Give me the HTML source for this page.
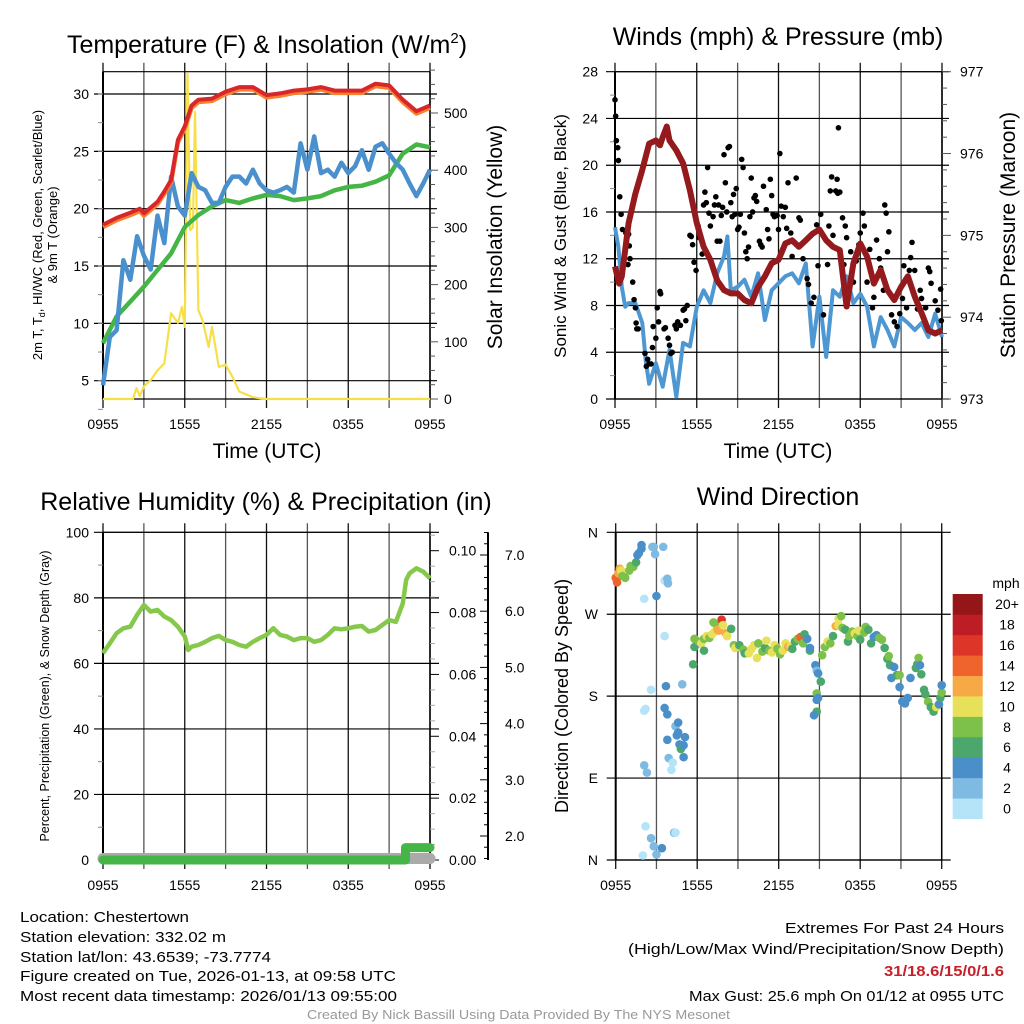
<!DOCTYPE html>
<html><head><meta charset="utf-8">
<style>
html,body{margin:0;padding:0;background:#fff;}
svg{display:block;font-family:"Liberation Sans",Arial,sans-serif;}
</style></head>
<body>
<svg id="fig" width="1024" height="1024" viewBox="0 0 1024 1024" xmlns="http://www.w3.org/2000/svg">
<rect width="1024" height="1024" fill="#fff"/>
<g id="p1"></g>
<g id="p2"></g>
<g id="p3"></g>
<g id="p4"></g>
<g font-size="15" fill="#000" lengthAdjust="spacingAndGlyphs">
<text x="20" y="922" textLength="169" lengthAdjust="spacingAndGlyphs">Location: Chestertown</text>
<text x="20" y="942" textLength="206" lengthAdjust="spacingAndGlyphs">Station elevation: 332.02 m</text>
<text x="20" y="962" textLength="251" lengthAdjust="spacingAndGlyphs">Station lat/lon: 43.6539; -73.7774</text>
<text x="20" y="981" textLength="376" lengthAdjust="spacingAndGlyphs">Figure created on Tue, 2026-01-13, at 09:58 UTC</text>
<text x="20" y="1001" textLength="377" lengthAdjust="spacingAndGlyphs">Most recent data timestamp: 2026/01/13 09:55:00</text>
</g>
<g font-size="15">
<text x="785" y="933" textLength="219" lengthAdjust="spacingAndGlyphs">Extremes For Past 24 Hours</text>
<text x="628" y="954" textLength="376" lengthAdjust="spacingAndGlyphs">(High/Low/Max Wind/Precipitation/Snow Depth)</text>
<text x="884" y="976" textLength="120" lengthAdjust="spacingAndGlyphs" fill="#c8202a" font-weight="bold">31/18.6/15/0/1.6</text>
<text x="689" y="1001" textLength="315" lengthAdjust="spacingAndGlyphs">Max Gust: 25.6 mph On 01/12 at 0955 UTC</text>
</g>
<text x="307" y="1019" font-size="13" textLength="423" lengthAdjust="spacingAndGlyphs" fill="#999">Created By Nick Bassill Using Data Provided By The NYS Mesonet</text>
</svg>
<script>
// ---------- Panel 1 data ----------
const tempHours = [0,1,2,2.7,3,4,4.5,5,5.5,6,6.5,7,8,9,10,11,12,13,14,15,16,17,18,19,20,21,22,23,24];
const temp2m =   [18.6,19.2,19.65,20.0,19.6,20.6,21.5,22.5,26.0,27.2,29.0,29.5,29.6,30.2,30.6,30.6,29.9,30.05,30.3,30.4,30.6,30.3,30.3,30.3,30.9,30.75,29.5,28.5,29.0];
const temp9m =   [18.4,19.0,19.45,19.8,19.4,20.4,21.3,22.3,25.8,27.0,28.8,29.3,29.4,30.0,30.4,30.4,29.7,29.85,30.1,30.2,30.4,30.1,30.1,30.1,30.7,30.55,29.3,28.3,28.8];
const dewHours = [0,1,2,3,4,5,6,7,8,9,10,11,12,13,14,15,16,17,18,19,20,21,22,23,24];
const dewPoint = [8.27,10.6,11.9,13.2,14.65,16.1,18.4,19.45,20.2,20.75,20.5,20.9,21.2,21.1,20.75,20.9,21.1,21.6,21.9,22.0,22.35,22.9,24.8,25.6,25.35];
const wcHours = [0,0.5,1,1.5,2,2.5,3,3.5,4,4.5,5,5.5,6,6.5,7,7.5,8,8.5,9,9.5,10,10.5,11,11.5,12,12.5,13,13.5,14,14.5,15,15.5,16,16.5,17,17.5,18,18.5,19,19.5,20,20.5,21,21.5,22,22.5,23,23.5,24];
const windChill = [4.6,8.8,9.4,15.5,13.8,17.6,15.9,14.7,19.4,17.0,22.8,20.2,19.4,23.1,21.9,21.6,20.5,20.5,21.9,22.8,22.8,22.2,23.4,22.2,21.6,21.4,21.6,21.9,21.4,25.7,23.4,26.3,23.1,23.4,22.8,24.0,23.1,23.7,25.1,23.4,25.4,25.7,24.8,24.0,23.4,22.2,21.1,22.2,23.4];
const solHours = [0,2.2,2.45,2.7,3,3.5,4,4.5,5,5.5,5.8,6,6.2,6.4,6.6,6.75,7,7.3,7.75,8,8.5,9,9.5,10,10.5,11,12,24];
const solar =    [0,0,19,5,22,33,50,62,150,133,161,126,569,295,300,502,155,138,91,126,56,60,39,13,8,3,0,0];
const p1LeftTicks = [5,10,15,20,25,30];
const p1RightTicks = [0,100,200,300,400,500];
const timeLabels = ["0955","1555","2155","0355","0955"];
// ---------- Panel 2 data ----------
const presHours = [0,0.3,0.5,1,1.5,2,2.5,3,3.3,3.5,3.8,4,4.5,5,5.5,6,6.5,7,7.5,8,8.5,9,9.5,10,10.5,11,11.5,12,12.5,13,13.5,14,14.5,15,15.5,16,16.5,17,17.5,18,18.5,19,19.5,20,20.5,21,21.5,22,22.5,23,23.5,24];
const pressure = [974.62,974.41,974.5,975.15,975.51,975.8,976.12,976.16,976.1,976.2,976.33,976.16,976.04,975.88,975.55,975.15,974.86,974.7,974.45,974.33,974.29,974.29,974.21,974.17,974.37,974.5,974.66,974.7,974.9,974.94,974.86,974.94,975.02,975.07,974.94,974.86,974.82,974.13,974.66,974.9,974.74,974.41,974.58,974.33,974.21,974.37,974.5,974.25,974.05,973.84,973.8,973.84];
const windHours = [0,0.25,0.5,0.75,1,1.5,2,2.25,2.5,3,3.5,4,4.5,5,5.5,6,6.5,7,7.5,8,8.25,8.5,9,9.5,10,10.5,11,11.5,12,12.5,13,13.5,14,14.5,15,15.5,16,16.5,17,17.5,18,18.5,19,19.5,20,20.5,21,21.5,22,22.5,23,23.5,24];
const sonicWind = [14.7,13.0,9.6,7.9,8.2,8.2,6.5,3.3,1.3,3.05,1.05,4.2,0.2,4.8,4.5,7.9,9.3,8.2,10.75,12.2,13.9,9.3,9.6,10.2,8.75,10.75,6.75,9.3,9.9,10.5,10.75,9.9,11.6,4.5,8.75,3.6,9.3,8.75,10.5,8.2,9.0,7.9,4.5,7.0,5.9,4.5,7.0,6.5,5.9,6.5,5.3,7.3,5.3];
const gustHours = [0,0.05,0.1,0.2,0.25,0.35,0.45,0.55,0.8,0.9,1.0,1.05,0.95,1.1,1.3,1.4,1.5,1.55,1.6,1.7,2.2,2.3,2.4,2.5,2.65,2.75,2.8,3.0,3.1,3.2,3.3,3.35,3.6,3.7,3.9,4.0,4.1,4.2,4.4,4.5,4.6,4.8,5.0,5.1,5.2,5.3,5.5,5.6,5.7,5.8,5.95,6.1,6.2,6.4,6.5,6.6,6.7,6.8,6.9,7.0,7.2,7.3,7.4,7.5,7.6,7.7,7.8,7.9,8.0,8.1,8.2,8.3,8.4,8.5,8.6,8.7,8.8,8.9,9.0,9.1,9.2,9.3,9.4,9.5,9.6,9.7,9.8,9.9,10.0,10.1,10.2,10.3,10.4,10.6,10.7,10.8,10.9,11.1,11.2,11.3,11.4,11.5,11.6,11.7,11.9,12.0,12.1,12.2,12.35,12.5,12.6,12.7,12.9,13.0,13.3,13.5,13.6,13.8,14.1,14.2,14.4,14.6,14.8,14.9,15.1,15.3,15.6,15.7,15.8,15.9,16.0,16.2,16.3,16.35,16.4,16.5,16.7,16.8,16.9,17.0,17.3,17.5,17.7,17.9,18.0,18.2,18.3,18.5,18.7,18.9,19.0,19.2,19.4,19.5,19.7,19.8,19.9,20.0,20.1,20.3,20.5,20.7,20.9,21.1,21.2,21.4,21.6,21.7,21.8,22.0,22.2,22.4,22.5,22.8,23.0,23.1,23.2,23.5,23.7,23.9,23.95];
const gustVals = [25.6,24.2,22.1,21.5,20.4,17.3,15.8,14.5,14.2,13.9,14.1,13.1,11.5,12,10,8.5,7.8,6.5,6.0,6.0,3.9,2.8,3.4,3.0,3.0,4.4,6.2,5.2,7.8,6.6,9.2,9.0,6.0,6.1,5.2,4.6,3.9,4.0,6.3,6.0,6.6,6.3,7.6,7.7,6.7,8.0,14,13.9,13.2,11.7,11.0,14.8,13.8,12.4,16.6,17.7,16.8,19.8,15.9,14.8,15.6,16.6,17.3,13.5,16.6,13.5,15.7,16.4,20.9,18.5,16.0,21.5,21.6,16.8,15.6,17.5,15.8,18.0,14.5,14.7,15.8,20.5,19.8,14.2,12.6,12.0,13.0,15.6,18.9,16.0,17.2,17.4,16.9,13.5,13.2,13.0,18.2,16.2,14.5,13.7,18.8,17.4,15.8,15.6,15.7,14.5,21.0,16.5,15.6,16.4,14.6,18.5,14.2,12.2,18.9,15.5,15.3,12.0,10.3,9.8,8.2,8.7,14.9,11.4,15.8,7.2,11.5,14.8,17.8,19.0,14.0,17.8,18.8,17.6,23.2,17.7,15.5,11.5,14.8,13.8,12.6,10.0,11.8,13.2,14.2,15.9,14.8,10.0,12.8,7.8,8.7,13.6,12.0,11.2,9.3,16.6,15.9,12.6,14.3,7.2,6.6,6.2,7.3,8.6,11.4,7.8,11.0,12.1,13.4,11.0,7.7,9.3,8.6,7.8,11.2,10.9,9.9,8.4,7.6,9.4,6.7];
const p2LeftTicks = [0,4,8,12,16,20,24,28];
const p2RightTicks = [973,974,975,976,977];
// ---------- Panel 3 data ----------
const rhHours = [0,0.5,1,1.5,2,2.5,3,3.5,4,4.5,5,5.5,6,6.25,6.5,7,7.5,8,8.5,9,9.5,10,10.5,11,11.5,12,12.5,13,13.5,14,14.5,15,15.5,16,16.5,17,17.5,18,18.5,19,19.5,20,20.5,21,21.5,22,22.25,22.5,23,23.5,24];
const relHum = [63.1,66.1,69.2,70.7,71.2,74.8,77.8,75.8,76.3,74.3,73.2,71.2,68.2,64.1,65.1,65.6,66.6,67.7,68.4,67.1,66.6,65.6,65.1,66.6,67.7,68.7,70.7,68.7,68.2,67.1,67.7,67.7,66.6,67.1,68.7,70.7,70.4,70.7,71.2,71.4,69.7,70.2,71.7,73.2,72.7,78.3,85.5,87.5,89.0,88.0,86.0];
const precipHours = [0,22.2,22.2,24];
const precip = [0,0,0.004,0.004];
const snowHours = [0,24];
const snowDepth = [1.6,1.6];
const p3LeftTicks = [0,20,40,60,80,100];
const p3PrecipTicks = [0.00,0.02,0.04,0.06,0.08,0.10];
const p3SnowTicks = [2,3,4,5,6,7];
// ---------- Panel 4 data ----------
const dirHours = [0,0.1,0.2,0.3,0.4,0.5,0.7,1.0,1.1,1.3,1.5,1.6,1.7,1.9,1.9,2.1,2.7,2.8,2.9,3.0,3.5,3.6,3.8,3.85,3.6,2.1,2.2,2.1,2.3,2.2,2.0,2.6,2.8,3.0,3.6,3.8,3.8,3.9,4.2,4.1,4.3,4.4,2.6,3.7,4.4,4.6,4.7,4.8,5.0,5.0,5.1,4.5,4.9,4.6,3.4,5.7,5.8,5.8,6.1,6.1,6.3,6.5,6.5,6.7,6.9,7.1,7.2,7.3,7.4,7.5,7.6,7.8,7.9,8.1,8.2,8.5,8.7,8.8,9.1,9.4,9.5,9.8,10.0,10.2,10.4,10.5,10.8,11.0,11.1,11.3,11.5,11.7,11.9,12.1,12.3,12.5,12.7,12.9,13.0,13.2,13.4,13.6,13.8,13.9,14.1,14.3,14.3,14.7,14.8,14.9,15.1,14.8,14.8,14.8,14.6,14.9,15.2,15.4,15.6,15.8,16.0,16.2,16.4,16.4,16.6,16.7,16.9,17.1,17.2,17.4,17.6,17.8,17.9,18.0,18.3,18.4,18.6,18.8,19.0,19.2,19.4,19.6,19.8,20.0,20.1,20.2,20.3,20.5,20.7,20.9,20.9,21.1,21.3,21.5,21.7,22.1,22.2,22.3,22.4,22.5,22.7,22.8,23.0,23.2,23.4,23.6,23.8,23.9,24.0,24.0];
const dirDeg = [310,305,315,320,318,312,310,318,323,322,327,335,337,346,342,287,344,344,336,290,344,307,309,304,246,164,166,104,96,37,5,24,15,6,167,160,132,112,107,99,30,30,187,191,147,140,127,122,126,113,135,137,193,151,13,215,243,234,238,240,238,243,230,246,244,248,261,251,259,253,252,264,258,249,246,254,236,233,236,231,227,227,232,236,222,238,229,233,241,230,228,236,232,226,230,238,234,235,232,240,243,245,238,248,243,230,233,214,208,205,196,183,163,176,159,178,225,234,240,238,246,257,258,265,268,255,253,240,246,251,249,246,252,242,250,256,253,238,245,247,244,242,233,221,224,214,200,212,203,203,190,174,172,178,200,211,215,222,214,204,187,182,174,168,163,168,171,178,184,192];
const dirSpeed = [15,15,12,12,10,8,8,8,8,8,6,4,4,4,4,1,2,2,2,4,2,1,2,2,1,1,1,2,2,1,1,3,3,3,4,4,4,2,1,1,2,1,1,4,2,4,4,6,4,4,4,4,2,4,4,6,8,6,4,8,10,8,6,10,8,10,8,10,8,12,12,16,10,12,10,6,8,10,6,8,6,10,10,10,10,8,8,6,10,8,10,10,8,8,10,10,12,10,6,6,8,14,8,6,4,6,4,4,2,4,6,8,6,4,4,4,8,8,10,8,6,12,10,10,8,8,6,6,8,8,10,8,10,6,8,8,6,6,4,4,8,8,6,6,8,6,4,4,6,8,4,4,4,4,4,6,6,8,4,6,6,6,8,6,6,10,4,6,8,4];
const speedLabels = ["0","2","4","6","8","10","12","14","16","18","20+"];
const speedColors = ["#b5e3f8","#7fbae3","#4a8fc7","#4ba76c","#7dc14b","#e6e158","#f7a946","#ef632d","#dd3528","#bd1e25","#951619"];
const dirLabels = ["N","E","S","W","N"];

// ---------- helpers ----------
const NS = "http://www.w3.org/2000/svg";
function mk(parent, tag, attrs, text){
  const e = document.createElementNS(NS, tag);
  for (const k in attrs) e.setAttribute(k, attrs[k]);
  if (text !== undefined) e.textContent = text;
  parent.appendChild(e);
  return e;
}
function linScale(d0,d1,r0,r1){ return v => r0 + (v-d0)/(d1-d0)*(r1-r0); }
function pathD(xs, ys, fx, fy){
  let d = "";
  for (let i=0;i<xs.length;i++) d += (i?"L":"M") + fx(xs[i]).toFixed(1) + "," + fy(ys[i]).toFixed(1);
  return d;
}
function frame(g, x0, x1, y0, y1, hLines, fy, vExt){
  const fx = linScale(0,24,x0,x1);
  for (let h=0; h<=24; h+=3){
    const l = mk(g,"line",{x1:fx(h),x2:fx(h),y1:y0-9,y2:y1+9,stroke:(h%6===0?"#111":"#555"),"stroke-width":1.3});
    
    
  }
  for (const v of hLines){
    const l = mk(g,"line",{x1:x0-9,x2:x1+(vExt||7),y1:fy(v),y2:fy(v),stroke:"#000","stroke-width":1.2});
    
    
  }
  mk(g,"line",{x1:x0,x2:x0,y1:y0,y2:y1,stroke:"#000","stroke-width":2});
  mk(g,"line",{x1:x1,x2:x1,y1:y0,y2:y1,stroke:"#000","stroke-width":1.5});
  mk(g,"line",{x1:x0,x2:x1,y1:y0,y2:y0,stroke:"#000","stroke-width":1.2});
  mk(g,"line",{x1:x0,x2:x1,y1:y1,y2:y1,stroke:"#000","stroke-width":1.2});
}
function timeAxis(g, x0, x1, yLab){
  const fx = linScale(0,24,x0,x1);
  timeLabels.forEach((t,i)=>{
    const e = mk(g,"text",{x:fx(i*6),y:yLab,"font-size":14,"text-anchor":"middle"},t);
    
    
  });
}

// ---------- Panel 1 ----------
(function(){
  const g = document.getElementById("p1");
  const X0=103, X1=430, YT=71.7, YB=399;
  const fx = linScale(0,24,X0,X1);
  const fy = linScale(5,30,380.7,94);
  const fs = linScale(0,500,399,113);
  frame(g,X0,X1,YT,YB,p1LeftTicks,fy);
  for (let v=2.5; v<32; v+=2.5){ mk(g,"line",{x1:X0-5,x2:X0,y1:fy(v),y2:fy(v),stroke:"#888"}); }
  for (let v=0; v<=575; v+=25){ mk(g,"line",{x1:X1,x2:X1+(v%100===0?8:5),y1:fs(v),y2:fs(v),stroke:"#555"}); }
  p1LeftTicks.forEach(v=>{ const e=mk(g,"text",{x:X0-14,y:fy(v)+5,"font-size":14,"text-anchor":"end"},String(v));   });
  p1RightTicks.forEach(v=>{ const e=mk(g,"text",{x:X1+14,y:fs(v)+5,"font-size":14},String(v));   });
  const s1 = mk(g,"path",{d:pathD(solHours,solar,fx,fs),fill:"none",stroke:"#f7df4a","stroke-width":2.2,"stroke-linejoin":"round"});
   
  const s2 = mk(g,"path",{d:pathD(dewHours,dewPoint,fx,fy),fill:"none",stroke:"#45b547","stroke-width":4.5,"stroke-linejoin":"round"});
   
  const s3 = mk(g,"path",{d:pathD(wcHours,windChill,fx,fy),fill:"none",stroke:"#4a90cc","stroke-width":4.5,"stroke-linejoin":"round"});
   
  const s4 = mk(g,"path",{d:pathD(tempHours,temp9m,fx,fy),fill:"none",stroke:"#f7802f","stroke-width":4.5,"stroke-linejoin":"round"});
   
  const s5 = mk(g,"path",{d:pathD(tempHours,temp2m,fx,fy),fill:"none",stroke:"#d8262a","stroke-width":4,"stroke-linejoin":"round"});
   
  timeAxis(g,X0,X1,429);
  const t = mk(g,"text",{x:267,y:53,"font-size":25,"text-anchor":"middle"});
  t.innerHTML = 'Temperature (F) &amp; Insolation (W/m<tspan dy="-10" font-size="15">2</tspan><tspan dy="10">)</tspan>';
   
  const xt = mk(g,"text",{x:267,y:458,"font-size":21,"text-anchor":"middle"},"Time (UTC)");
   
  const yl = mk(g,"text",{transform:"translate(42,235) rotate(-90)","font-size":13,"text-anchor":"middle"});
  yl.innerHTML = '<tspan x="0" dy="0">2m T, T<tspan font-size="9" dy="3">d</tspan><tspan dy="-3">, HI/WC (Red, Green, Scarlet/Blue)</tspan></tspan><tspan x="0" dy="15">&amp; 9m T (Orange)</tspan>';
   
  const yr = mk(g,"text",{transform:"translate(502,237) rotate(-90)","font-size":21,"text-anchor":"middle"},"Solar Insolation (Yellow)");
   
})();

// ---------- Panel 2 ----------
(function(){
  const g = document.getElementById("p2");
  const X0=615, X1=942, YT=71.7, YB=399;
  const fx = linScale(0,24,X0,X1);
  const fy = linScale(0,28,YB,YT);
  const fp = linScale(973,977,YB,YT);
  frame(g,X0,X1,YT,YB,p2LeftTicks,fy);
  for (let v=2; v<28; v+=4){ mk(g,"line",{x1:X0-5,x2:X0,y1:fy(v),y2:fy(v),stroke:"#888"}); }
  for (let v=973; v<=977.001; v+=0.2){ mk(g,"line",{x1:X1,x2:X1+(Math.abs(v-Math.round(v))<0.01?9:5),y1:fp(v),y2:fp(v),stroke:"#555"}); }
  p2LeftTicks.forEach(v=>{ const e=mk(g,"text",{x:X0-17,y:fy(v)+5,"font-size":14,"text-anchor":"end"},String(v));   });
  p2RightTicks.forEach(v=>{ const e=mk(g,"text",{x:X1+18,y:fp(v)+5,"font-size":14},String(v));   });
  const w = mk(g,"path",{d:pathD(windHours,sonicWind,fx,fy),fill:"none",stroke:"#4d97d3","stroke-width":4,"stroke-linejoin":"round"});
   
  gustHours.forEach((h,i)=>{
    const c = mk(g,"circle",{cx:fx(h),cy:fy(gustVals[i]),r:2.8,fill:"#000"});
    
    
  });
  const p = mk(g,"path",{d:pathD(presHours,pressure,fx,fp),fill:"none",stroke:"#951a1d","stroke-width":6,"stroke-linejoin":"round"});
   
  timeAxis(g,X0,X1,429);
  const t = mk(g,"text",{x:778,y:45,"font-size":25,"text-anchor":"middle"},"Winds (mph) & Pressure (mb)");
   
  const xt = mk(g,"text",{x:778,y:458,"font-size":21,"text-anchor":"middle"},"Time (UTC)");
   
  const yl = mk(g,"text",{transform:"translate(566,236) rotate(-90)","font-size":17,"text-anchor":"middle"},"Sonic Wind & Gust (Blue, Black)");
   
  const yr = mk(g,"text",{transform:"translate(1015,235) rotate(-90)","font-size":21,"text-anchor":"middle"},"Station Pressure (Maroon)");
   
})();

// ---------- Panel 3 ----------
(function(){
  const g = document.getElementById("p3");
  const X0=103, X1=430, YT=532.3, YB=860;
  const fx = linScale(0,24,X0,X1);
  const fy = linScale(0,100,YB,YT);
  const fpr = linScale(0,0.10,YB,550.7);
  const fsn = linScale(2,7,836,555);
  frame(g,X0,X1,YT,YB,[20,40,60,80,100],fy,9);
  for (let v=10; v<100; v+=20){ mk(g,"line",{x1:X0-5,x2:X0,y1:fy(v),y2:fy(v),stroke:"#888"}); }
  for (let v=0; v<=0.1051; v+=0.005){ const major=Math.abs(v*50-Math.round(v*50))<0.01; mk(g,"line",{x1:X1,x2:X1+(major?9:5),y1:fpr(v),y2:fpr(v),stroke:major?"#000":"#aaa"}); }
  mk(g,"line",{x1:488,x2:488,y1:YT,y2:YB,stroke:"#000","stroke-width":2});
  for (let v=1.6; v<=7.41; v+=0.2){ const major=Math.abs(v-Math.round(v))<0.01; mk(g,"line",{x1:488-(major?8:4),x2:488,y1:fsn(v),y2:fsn(v),stroke:"#000"}); }
  p3LeftTicks.forEach(v=>{ const e=mk(g,"text",{x:X0-14,y:fy(v)+5,"font-size":14,"text-anchor":"end"},String(v));   });
  p3PrecipTicks.forEach(v=>{ const e=mk(g,"text",{x:X1+19,y:fpr(v)+5,"font-size":14},v.toFixed(2));   });
  p3SnowTicks.forEach(v=>{ const e=mk(g,"text",{x:505,y:fsn(v)+5,"font-size":14},v.toFixed(1));   });
  const sn = mk(g,"path",{d:pathD(snowHours,snowDepth,fx,fsn),fill:"none",stroke:"#aaa","stroke-width":11,"stroke-linecap":"round"});
   
  const pr = mk(g,"path",{d:pathD(precipHours,precip,fx,fpr),fill:"none",stroke:"#46b548","stroke-width":9,"stroke-linecap":"round","stroke-linejoin":"round"});
   
  const rh = mk(g,"path",{d:pathD(rhHours,relHum,fx,fy),fill:"none",stroke:"#86c84c","stroke-width":4.5,"stroke-linejoin":"round"});
   
  timeAxis(g,X0,X1,890);
  const t = mk(g,"text",{x:266,y:510,"font-size":25,"text-anchor":"middle"},"Relative Humidity (%) & Precipitation (in)");
   
  const yl = mk(g,"text",{transform:"translate(49,696) rotate(-90)","font-size":12.5,"text-anchor":"middle"},"Percent, Precipitation (Green), & Snow Depth (Gray)");
   
})();

// ---------- Panel 4 ----------
(function(){
  const g = document.getElementById("p4");
  const X0=615.7, X1=941.7, YT=532.3, YB=860;
  const fx = linScale(0,24,X0,X1);
  const fy = linScale(0,360,YB,YT);
  frame(g,X0,X1,YT,YB,[0,90,180,270,360],fy,9);
  dirLabels.forEach((l,i)=>{ const e=mk(g,"text",{x:598,y:fy(i*90)+5,"font-size":14,"text-anchor":"end"},l);   });
  dirHours.forEach((h,i)=>{
    const idx = Math.min(10, Math.floor(dirSpeed[i]/2));
    const c = mk(g,"circle",{cx:fx(h),cy:fy(dirDeg[i]),r:4.3,fill:speedColors[idx]});
    
    
  });
  const bh = (818.7-594)/11;
  speedColors.forEach((col,i)=>{
    const y = 818.7 - (i+1)*bh;
    const r = mk(g,"rect",{x:952.7,y:y,width:30,height:bh+0.3,fill:col});
    
    
    const t = mk(g,"text",{x:1007,y:y+bh/2+5,"font-size":14,"text-anchor":"middle"},speedLabels[i]);
    
    
  });
  const u = mk(g,"text",{x:1006,y:588,"font-size":14,"text-anchor":"middle"},"mph");
   
  timeAxis(g,X0,X1,890);
  const t = mk(g,"text",{x:778,y:505,"font-size":25,"text-anchor":"middle"},"Wind Direction");
   
  const yl = mk(g,"text",{transform:"translate(568,696) rotate(-90)","font-size":18,"text-anchor":"middle"},"Direction (Colored By Speed)");
   
})();
</script>
</body></html>
